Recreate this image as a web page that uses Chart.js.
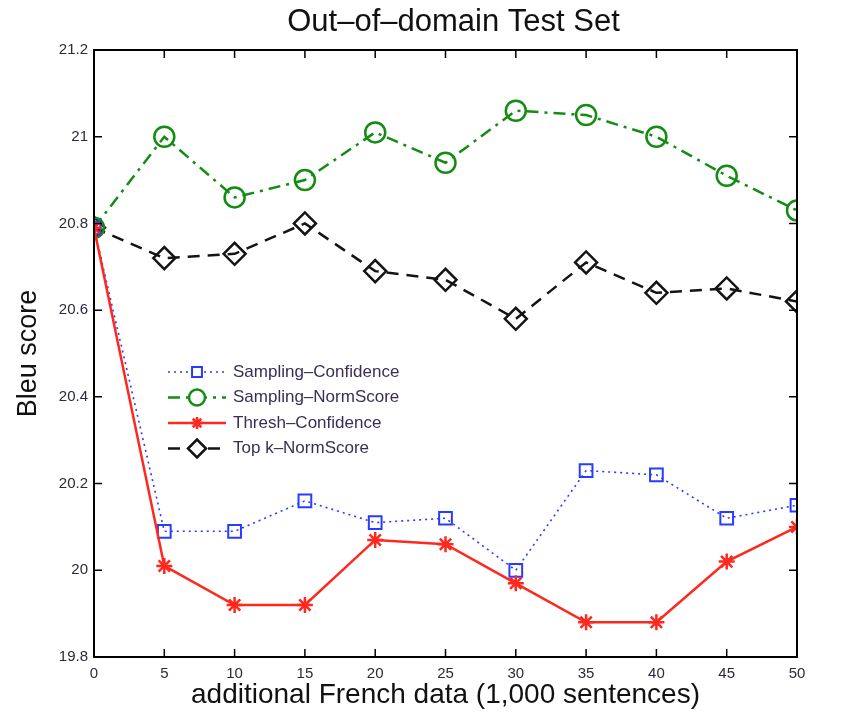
<!DOCTYPE html>
<html>
<head>
<meta charset="utf-8">
<script src="https://cdn.jsdelivr.net/npm/chart.js@4"></script>
<style>
  html, body { margin: 0; padding: 0; background: #fff; }
  #wrap { width: 849px; height: 712px; }
</style>
</head>
<body>
<div id="wrap"><canvas id="myChart" width="849" height="712"></canvas></div>
<script>
const xValues = [0, 5, 10, 15, 20, 25, 30, 35, 40, 45, 50];
const samplingConfidence = [20.79, 20.09, 20.09, 20.16, 20.11, 20.12, 20.0, 20.23, 20.22, 20.12, 20.15];
const samplingNormScore = [20.79, 21.0, 20.86, 20.9, 21.01, 20.94, 21.06, 21.05, 21.0, 20.91, 20.83];
const threshConfidence = [20.79, 20.01, 19.92, 19.92, 20.07, 20.06, 19.97, 19.88, 19.88, 20.02, 20.1];
const topKNormScore = [20.79, 20.72, 20.73, 20.8, 20.69, 20.67, 20.58, 20.71, 20.64, 20.65, 20.62];
const seriesNames = ["Sampling\u2013Confidence", "Sampling\u2013NormScore", "Thresh\u2013Confidence", "Top k\u2013NormScore"];

const FONT = "'Liberation Sans', Arial, sans-serif";

function pts(ys) {
  return xValues.map((x, i) => ({ x: x, y: ys[i] }));
}

const data = {
  datasets: [
    {
      label: seriesNames[2],
      data: pts(threshConfidence),
      borderColor: "rgb(255, 40, 30)",
      backgroundColor: "rgb(255, 40, 30)",
      borderWidth: 2.5,
      pointStyle: "star",
      pointRadius: 8,
      pointBorderWidth: 2.5,
    },
    {
      label: seriesNames[0],
      data: pts(samplingConfidence),
      borderColor: "rgb(40, 60, 255)",
      backgroundColor: "rgba(255,255,255,0)",
      borderWidth: 1.6,
      borderDash: [2, 4],
      pointStyle: "rect",
      pointRadius: 9,
      pointBorderWidth: 2,
    },
    {
      label: seriesNames[1],
      data: pts(samplingNormScore),
      borderColor: "rgb(20, 140, 20)",
      backgroundColor: "rgba(255,255,255,0)",
      borderWidth: 2.5,
      borderDash: [12, 6, 3, 6],
      pointStyle: "circle",
      pointRadius: 10,
      pointBorderWidth: 2.5,
    },
    {
      label: seriesNames[3],
      data: pts(topKNormScore),
      borderColor: "rgb(20, 20, 20)",
      backgroundColor: "rgba(255,255,255,0)",
      borderWidth: 2.5,
      borderDash: [12, 8],
      pointStyle: "rectRot",
      pointRadius: 11,
      pointBorderWidth: 2.5,
    },
  ],
};

// box, inward ticks, legend, title
const frame = {
  id: "frame",
  afterDraw(chart) {
    const ctx = chart.ctx;
    const a = chart.chartArea;
    const xs = chart.scales.x, ys = chart.scales.y;
    ctx.save();
    ctx.strokeStyle = "#000";
    ctx.lineWidth = 2;
    ctx.setLineDash([]);
    ctx.strokeRect(a.left, a.top, a.right - a.left, a.bottom - a.top);
    ctx.lineWidth = 1.5;
    ctx.beginPath();
    xs.ticks.forEach(t => {
      const px = xs.getPixelForValue(t.value);
      ctx.moveTo(px, a.bottom); ctx.lineTo(px, a.bottom - 8);
      ctx.moveTo(px, a.top); ctx.lineTo(px, a.top + 8);
    });
    ys.ticks.forEach(t => {
      const py = ys.getPixelForValue(t.value);
      ctx.moveTo(a.left, py); ctx.lineTo(a.left + 8, py);
      ctx.moveTo(a.right, py); ctx.lineTo(a.right - 8, py);
    });
    ctx.stroke();

    // title
    ctx.fillStyle = "#111";
    ctx.font = "31px " + FONT;
    ctx.textAlign = "center";
    ctx.textBaseline = "middle";
    ctx.fillText("Out\u2013of\u2013domain Test Set", (a.left + a.right) / 2 + 8, 22);

    // legend
    const order = [1, 2, 0, 3];
    const lx = 168, ly = 372, gap = 25.5;
    ctx.font = "17px " + FONT;
    ctx.textAlign = "left";
    order.forEach((di, k) => {
      const ds = chart.data.datasets[di];
      const y = ly + k * gap;
      ctx.strokeStyle = ds.borderColor;
      ctx.lineWidth = ds.borderWidth;
      ctx.setLineDash(ds.borderDash || []);
      ctx.beginPath();
      ctx.moveTo(lx, y); ctx.lineTo(lx + 58, y);
      ctx.stroke();
      ctx.setLineDash([]);
      ctx.fillStyle = "#fff";
      ctx.strokeStyle = ds.borderColor;
      ctx.lineWidth = ds.pointBorderWidth;
      Chart.helpers.drawPoint(ctx, {
        pointStyle: ds.pointStyle,
        radius: ds.pointRadius - 2,
        borderWidth: ds.pointBorderWidth,
      }, lx + 29, y);
      ctx.fillStyle = "#3a2e55";
      ctx.fillText(ds.label, lx + 65, y);
    });
    ctx.restore();
  },
};

const config = {
  type: "line",
  data: data,
  options: {
    responsive: false,
    animation: false,
    layout: { padding: { top: 50, right: 52, left: 0, bottom: 0 } },
    plugins: { legend: { display: false }, tooltip: { enabled: false } },
    elements: { line: { tension: 0 } },
    scales: {
      x: {
        type: "linear",
        min: 0,
        max: 50,
        grid: { display: false, drawTicks: false },
        border: { display: false },
        ticks: { stepSize: 5, color: "#2a2a3a", font: { family: FONT, size: 15 }, padding: 8 },
        title: { display: true, text: "additional French data (1,000 sentences)", color: "#111", font: { family: FONT, size: 28 }, padding: { top: 0, bottom: 0 } },
        afterFit(s) { s.height = 55; },
      },
      y: {
        min: 19.8,
        max: 21.2,
        grid: { display: false, drawTicks: false },
        border: { display: false },
        ticks: {
          stepSize: 0.2,
          color: "#2a2a3a",
          font: { family: FONT, size: 15 },
          padding: 6,
          callback: v => String(Math.round(v * 10) / 10),
        },
        title: { display: true, text: "Bleu score", color: "#111", font: { family: FONT, size: 27 }, padding: { top: 12, bottom: 2 } },
        afterFit(s) { s.width = 94; },
      },
    },
  },
  plugins: [frame],
};

const myChart = new Chart(document.getElementById("myChart"), config);
</script>
</body>
</html>
